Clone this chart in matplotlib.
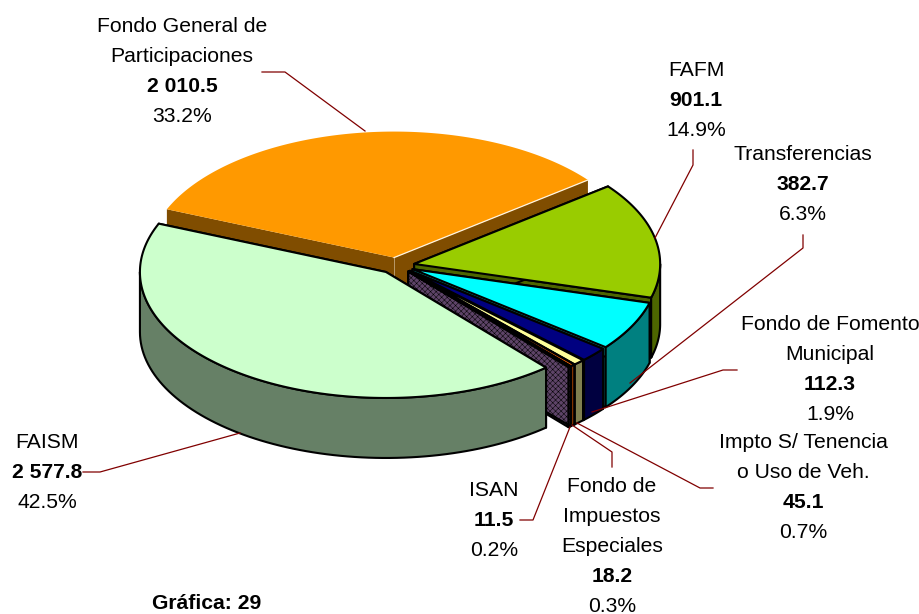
import numpy as np
import matplotlib
matplotlib.use('Agg')
from matplotlib import pyplot as plt
from matplotlib.patches import Polygon

plt.rcParams['font.family'] = ['Liberation Sans', 'DejaVu Sans']
plt.rcParams['hatch.linewidth'] = 0.35

# counter-clockwise from the orange slice's right edge
names = ['Fondo General de\nParticipaciones', 'FAISM', 'ISAN',
         'Fondo de\nImpuestos\nEspeciales', 'Impto S/ Tenencia\no Uso de Veh.',
         'Fondo de Fomento\nMunicipal', 'Transferencias', 'FAFM']
values = [2010.5, 2577.8, 11.5, 18.2, 45.1, 112.3, 382.7, 901.1]
value_labels = ['2 010.5', '2 577.8', '11.5', '18.2', '45.1', '112.3', '382.7', '901.1']
pct_labels = ['33.2%', '42.5%', '0.2%', '0.3%', '0.7%', '1.9%', '6.3%', '14.9%']

top_colors = ['#FF9900', '#CCFFCC', '#6B4A7A', '#FF6600', '#FFFF99', '#000080', '#00FFFF', '#99CC00']
side_colors = ['#804D00', '#668066', '#5E4468', '#803300', '#808050', '#000040', '#008080', '#4D6600']
draw_order = [0, 7, 6, 5, 4, 3, 2, 1]

# scene, in pixels
cx, cy = 396.5, 265.5
rx, ry = 246, 126
depth = 60
ex, ey = 18, 8
start_deg = 38

# first text line centre for each label
label_pos = [(182, 27), (47, 443), (494, 490), (612, 486), (803, 442), (830, 324), (803, 154), (696, 70)]
line_gap = 30
leaders = [[(262, 72), (285, 72), (365, 131)],
           [(83, 472), (100, 472), (240, 433)],
           [(520, 520), (533, 520), (570, 427)],
           [(612, 467), (612, 452), (572, 425)],
           [(713, 488), (700, 488), (577, 423)],
           [(737, 370), (723, 370), (592, 412)],
           [(803, 235), (803, 248), (630, 383)],
           [(693, 150), (693, 165), (655, 238)]]


def rim(x0, y0, t):
    return np.column_stack([x0 + rx * np.cos(t), y0 - ry * np.sin(t)])


def draw_slice(ax, t1, t2, top, side, z, hatch=None, outline=True):
    mid = (t1 + t2) / 2
    x0 = cx + ex * np.cos(mid)
    y0 = cy - ey * np.sin(mid)
    apex = np.array([x0, y0])
    if outline:
        kw = dict(edgecolor='black', linewidth=1.5, joinstyle='round', zorder=z, hatch=hatch)
    else:
        kw = dict(edgecolor='none', zorder=z)
    down = np.array([0, depth])
    # cut faces
    for t in (t1, t2):
        p = rim(x0, y0, np.array([t]))[0]
        ax.add_patch(Polygon([apex, p, p + down, apex + down], facecolor=side, **kw))
    # front part of the rim
    for lo, hi in ((t1, t2), (t1 - 2 * np.pi, t2 - 2 * np.pi)):
        a = max(lo, -np.pi)
        b = min(hi, 0)
        if b > a:
            arc = rim(x0, y0, np.linspace(a, b, 80))
            ax.add_patch(Polygon(np.vstack([arc, arc[::-1] + down]), facecolor=side, **kw))
    arc = rim(x0, y0, np.linspace(t1, t2, 160))
    ax.add_patch(Polygon(np.vstack([apex, arc]), facecolor=top, **kw))
    if not outline:
        # light seams of the slice without outline
        p = rim(x0, y0, np.array([t1]))[0]
        ax.plot([x0, p[0]], [y0, p[1]], color='#FFF4E0', lw=0.9, zorder=z)
        ax.plot([x0, x0], [y0, y0 + depth], color='#B89A6A', lw=0.7, zorder=z)


fig = plt.figure(figsize=(9.2, 6.14), dpi=100)
ax = fig.add_axes([0, 0, 1, 1])
ax.set_xlim(0, 920)
ax.set_ylim(614, 0)
ax.axis('off')

fracs = np.array(values) / sum(values)
edges = np.radians(start_deg) + 2 * np.pi * np.concatenate([[0], np.cumsum(fracs)])
for z, i in enumerate(draw_order):
    draw_slice(ax, edges[i], edges[i + 1], top_colors[i], side_colors[i], 2 + z,
               hatch='xxxxxx' if names[i] == 'ISAN' else None,
               outline=names[i] != names[0])

for pts in leaders:
    xs, ys = zip(*pts)
    ax.plot(xs, ys, color='#800000', lw=0.9, zorder=20)

fs = 15.2
for name, val, pct, (x, y) in zip(names, value_labels, pct_labels, label_pos):
    for line in name.split('\n'):
        ax.text(x, y, line, ha='center', va='center', fontsize=fs, color='black')
        y += line_gap
    ax.text(x, y, val, ha='center', va='center', fontsize=fs, fontweight='bold', color='black')
    ax.text(x, y + line_gap, pct, ha='center', va='center', fontsize=fs, color='black')

ax.text(207, 609, 'Gráfica: 29', ha='center', va='baseline', fontsize=fs, fontweight='bold')

fig.savefig('out.png', dpi=100)
